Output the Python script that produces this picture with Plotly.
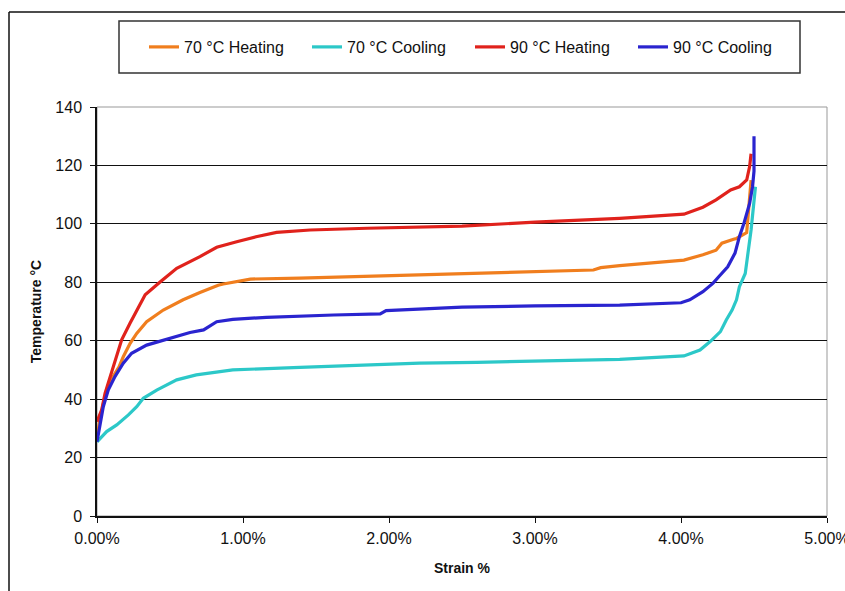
import plotly.graph_objects as go

# ---------------- data (strain in %, temperature in °C) ----------------
h70_strain = [0.0, 0.02, 0.05, 0.08, 0.11, 0.15, 0.18, 0.226, 0.272, 0.34, 0.454, 0.59, 0.705, 0.83,
              0.865, 0.95, 1.05, 1.39, 2.21, 2.6, 3.0, 3.4, 3.45, 3.58, 4.02, 4.15, 4.24, 4.28, 4.36,
              4.38, 4.45, 4.46, 4.47, 4.48]
h70_temp = [27, 33, 40, 45, 47.7, 51, 54.5, 59, 62.5, 66.5, 70.5, 74, 76.5, 79,
            79.4, 80.3, 81.1, 81.4, 82.5, 83, 83.5, 84.2, 85, 85.7, 87.6, 89.4, 91, 93.4, 94.7,
            95, 97, 103, 110, 115]

c70_strain = [0.0, 0.066, 0.135, 0.215, 0.272, 0.317, 0.409, 0.546, 0.68, 0.83, 0.93, 1.39, 2.21,
              2.6, 3.0, 3.58, 4.02, 4.13, 4.2, 4.27, 4.31, 4.35, 4.38, 4.40, 4.44, 4.46, 4.48, 4.51]
c70_temp = [25.4, 28.9, 31.2, 34.6, 37.4, 40.3, 43.1, 46.6, 48.3, 49.4, 50, 50.9, 52.3,
            52.6, 53, 53.6, 54.8, 56.8, 59.7, 63.1, 67.1, 70.5, 74, 78.5, 83, 90, 97.9, 112.7]

h90_strain = [0.0, 0.032, 0.055, 0.089, 0.123, 0.169, 0.226, 0.272, 0.33, 0.43, 0.546, 0.705, 0.82,
              0.957, 1.09, 1.23, 1.46, 1.85, 2.21, 2.5, 3.0, 3.5, 3.58, 4.02, 4.15, 4.24, 4.34,
              4.40, 4.45, 4.47, 4.48]
h90_temp = [32.3, 36.3, 42, 47.7, 53.4, 60.3, 66, 70.5, 75.7, 80, 84.8, 88.8, 92,
            93.9, 95.6, 97.1, 97.9, 98.5, 98.8, 99.2, 100.6, 101.7, 101.9, 103.3, 105.7, 108.2, 111.6,
            112.7, 115, 119.6, 124]

c90_strain = [0.0, 0.02, 0.043, 0.077, 0.123, 0.18, 0.237, 0.34, 0.5, 0.637, 0.73, 0.82, 0.93,
              1.16, 1.62, 1.94, 1.98, 2.21, 2.5, 3.0, 3.58, 4.0, 4.06, 4.15, 4.22, 4.26, 4.32,
              4.37, 4.40, 4.43, 4.47, 4.49, 4.50, 4.50]
c90_temp = [25.4, 31.7, 37.4, 43.1, 47.7, 52.3, 55.7, 58.5, 60.8, 62.8, 63.7, 66.5, 67.3,
            68, 68.8, 69.2, 70.3, 70.9, 71.5, 71.9, 72.2, 73, 74, 76.8, 79.7, 82, 85.3,
            90, 95.6, 100, 107, 112.7, 118, 130]

series = [
    ("70 °C Heating", h70_strain, h70_temp, "#F07E1E"),
    ("70 °C Cooling", c70_strain, c70_temp, "#2CC8C8"),
    ("90 °C Heating", h90_strain, h90_temp, "#E0221C"),
    ("90 °C Cooling", c90_strain, c90_temp, "#2A24CF"),
]

x_ticks = [0, 0.01, 0.02, 0.03, 0.04, 0.05]
y_ticks = [0, 20, 40, 60, 80, 100, 120, 140]

fig = go.Figure()
for name, xs, ys, col in series:
    fig.add_trace(go.Scatter(
        x=[v / 100 for v in xs], y=ys, mode="lines", name=name,
        line=dict(color=col, width=3.2),
    ))

FONT = "Liberation Sans, Arial, sans-serif"
W, H = 845, 591
L, R, T, B = 97, 18, 107, 75
pw, ph = W - L - R, H - T - B


def px_x(p):
    return (p - L) / pw


def px_y(p):
    return (H - B - p) / ph


fig.update_layout(
    width=W, height=H,
    margin=dict(l=L, r=R, t=T, b=B),
    paper_bgcolor="white", plot_bgcolor="white",
    font=dict(family=FONT, size=16, color="#111"),
    showlegend=True,
    legend=dict(
        orientation="h", x=0.5 + 8 / pw, xanchor="center",
        y=(px_y(21) + px_y(73)) / 2, yanchor="middle",
        font=dict(family=FONT, size=16, color="#111"),
        bgcolor="rgba(0,0,0,0)", itemwidth=30,
        entrywidth=118, entrywidthmode="pixels",
    ),
    xaxis=dict(
        range=[0, 0.05], tickvals=x_ticks, tickformat=".2%",
        showgrid=False, zeroline=False, automargin=False,
        showline=True, linecolor="#111", linewidth=1.5,
        ticks="outside", ticklen=5, tickcolor="#111",
        tickfont=dict(size=16, color="#111"), ticklabelstandoff=2,
        ticklabeloverflow="allow",
        title=dict(text="<b>Strain %</b>", font=dict(size=14, color="#111"), standoff=17),
    ),
    yaxis=dict(
        range=[0, 140], tickvals=y_ticks,
        showgrid=True, gridcolor="#111", gridwidth=1,
        zeroline=False, automargin=False,
        showline=True, linecolor="#111", linewidth=1.5,
        ticks="outside", ticklen=5, tickcolor="#111",
        tickfont=dict(size=16, color="#111"), ticklabelstandoff=5,
        title=dict(text="<b>Temperature °C</b>", font=dict(size=14, color="#111"), standoff=10),
    ),
    shapes=[
        # plot-area border (grey)
        dict(type="rect", xref="paper", yref="paper", x0=0, x1=1, y0=0, y1=1,
             line=dict(color="#999", width=1), layer="below"),
        # legend box
        dict(type="rect", xref="paper", yref="paper",
             x0=px_x(119), x1=px_x(800), y0=px_y(73), y1=px_y(21),
             line=dict(color="#333", width=1.5)),
        # outer chart frame (left and top edges visible)
        dict(type="line", xref="paper", yref="paper",
             x0=px_x(9), x1=px_x(9), y0=px_y(600), y1=px_y(12),
             line=dict(color="#111", width=1.5)),
        dict(type="line", xref="paper", yref="paper",
             x0=px_x(9), x1=px_x(860), y0=px_y(12), y1=px_y(12),
             line=dict(color="#111", width=1.5)),
    ],
)

fig.write_html("out.html", config={"displayModeBar": False},
               post_script="document.body.style.margin='0';")
